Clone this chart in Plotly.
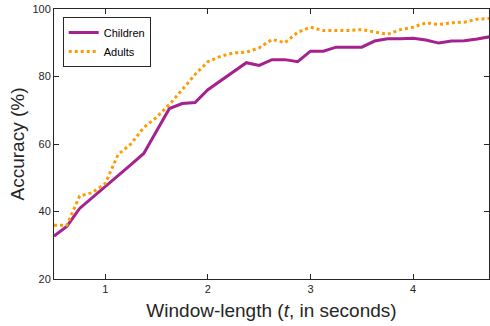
import plotly.graph_objects as go

t = [0.5, 0.625, 0.75, 0.875, 1.0, 1.125, 1.25, 1.375, 1.5, 1.625, 1.75, 1.875,
     2.0, 2.125, 2.25, 2.375, 2.5, 2.625, 2.75, 2.875, 3.0, 3.125, 3.25, 3.375,
     3.5, 3.625, 3.75, 3.875, 4.0, 4.125, 4.25, 4.375, 4.5, 4.625, 4.75]

children = [32.7, 35.6, 40.9, 44.1, 47.4, 50.7, 53.9, 57.2, 63.9, 70.5, 72.0, 72.3,
            76.1, 78.8, 81.4, 84.1, 83.3, 85.0, 85.0, 84.4, 87.5, 87.5, 88.7, 88.7,
            88.7, 90.5, 91.2, 91.2, 91.3, 90.8, 89.9, 90.5, 90.6, 91.1, 91.8]

adults = [35.9, 35.9, 44.6, 45.6, 48.3, 56.9, 60.0, 64.9, 67.9, 71.7, 76.1, 80.6,
          84.4, 86.0, 87.0, 87.2, 88.5, 91.0, 90.0, 93.1, 94.6, 93.6, 93.6, 93.6,
          93.9, 93.2, 92.5, 93.9, 94.6, 95.9, 95.4, 95.9, 96.1, 97.0, 97.2]

x_ticks = [1, 2, 3, 4]
y_ticks = [20, 40, 60, 80, 100]

fig = go.Figure()
fig.add_trace(go.Scatter(x=t, y=children, mode="lines", name="Children",
                         line=dict(color="#A5218F", width=3)))
fig.add_trace(go.Scatter(x=t, y=adults, mode="lines", name="Adults",
                         line=dict(color="#FF9A00", width=3, dash="dot")))

axis_common = dict(showline=True, linecolor="#262626", linewidth=1, mirror="ticks",
                   ticks="inside", ticklen=5, tickcolor="#262626", showgrid=False,
                   zeroline=False, tickfont=dict(family="Liberation Sans, Arial", size=11, color="#262626"))

fig.update_xaxes(range=[0.5, 4.74], tickvals=x_ticks, ticktext=[str(v) for v in x_ticks],
                 title=dict(text="Window-length (<i>t</i>, in seconds)", standoff=9,
                            font=dict(family="Liberation Sans, Arial", size=19, color="#262626")),
                 **axis_common)
fig.update_yaxes(range=[20, 100], tickvals=y_ticks, ticktext=[str(v) for v in y_ticks],
                 title=dict(text="Accuracy (%)", standoff=2,
                            font=dict(family="Liberation Sans, Arial", size=19, color="#262626")),
                 **axis_common)

fig.update_layout(
    width=490, height=326,
    margin=dict(l=54, r=1, t=9, b=47),
    plot_bgcolor="white", paper_bgcolor="white",
    legend=dict(x=0.02, y=0.97, xanchor="left", yanchor="top",
                bgcolor="white", bordercolor="#262626", borderwidth=1,
                font=dict(family="Liberation Sans, Arial", size=11, color="#000000"),
                tracegroupgap=0, itemwidth=30),
)

fig.write_html("out.html")
